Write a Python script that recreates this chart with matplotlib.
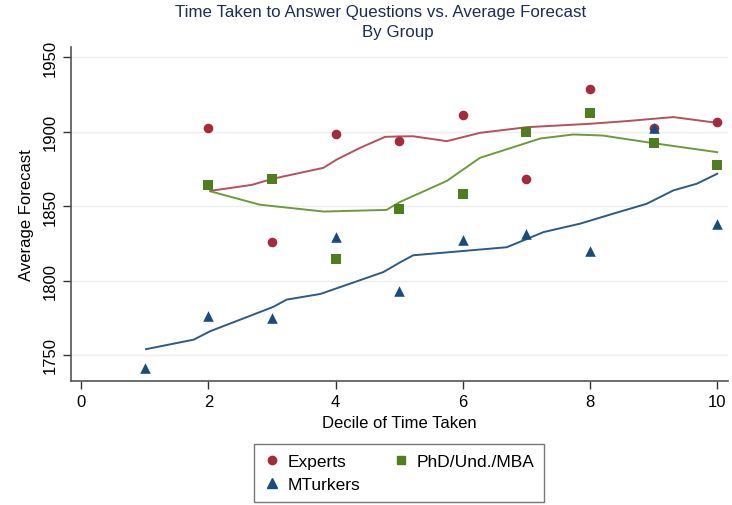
import numpy as np
import matplotlib.pyplot as plt
from matplotlib.lines import Line2D

plt.rcParams['font.family'] = ['Liberation Sans', 'DejaVu Sans']

deciles = [1, 2, 3, 4, 5, 6, 7, 8, 9, 10]

# decile means
experts_x = [2, 3, 4, 5, 6, 7, 8, 9, 10]
experts_y = [1902.3, 1825.8, 1898.7, 1893.7, 1911.4, 1868.0, 1928.8, 1902.5, 1906.5]
phd_x = [2, 3, 4, 5, 6, 7, 8, 9, 10]
phd_y = [1864.3, 1868.0, 1814.3, 1848.4, 1858.5, 1900.2, 1912.8, 1892.4, 1877.8]
mturk_x = deciles
mturk_y = [1741.5, 1776.5, 1774.7, 1829.6, 1793.0, 1827.5, 1831.0, 1820.0, 1902.7, 1838.2]

# smoothed fits
experts_fit_x = [2.03, 2.68, 3.02, 3.81, 4.02, 4.4, 4.78, 5.0, 5.22, 5.75, 6.27, 7.01, 8.0, 8.58, 9.31, 10.0]
experts_fit_y = [1860.3, 1864.3, 1868.5, 1875.8, 1881.4, 1889.5, 1896.6, 1896.9, 1897.0, 1893.7, 1899.3, 1903.1, 1905.4, 1907.2, 1909.9, 1906.0]
phd_fit_x = [2.03, 2.81, 3.81, 4.8, 5.02, 5.75, 6.27, 7.22, 7.74, 8.2, 8.99, 10.0]
phd_fit_y = [1860.0, 1851.0, 1846.4, 1847.5, 1853.0, 1867.0, 1882.5, 1895.5, 1898.2, 1897.5, 1892.4, 1886.3]
mturk_fit_x = [1.02, 1.77, 2.03, 3.02, 3.23, 3.76, 4.28, 4.75, 5.02, 5.22, 6.69, 7.01, 7.27, 7.84, 8.36, 8.89, 9.31, 9.68, 10.0]
mturk_fit_y = [1753.9, 1760.3, 1766.0, 1782.3, 1787.2, 1791.0, 1798.7, 1805.7, 1812.4, 1817.0, 1822.4, 1828.0, 1832.6, 1838.2, 1844.9, 1851.6, 1860.6, 1865.1, 1871.8]

red = '#a52a3c'
green = '#4f7d1f'
blue = '#1b4b7a'

fig = plt.figure(figsize=(7.32, 5.06), dpi=100)
ax = fig.add_axes([71 / 732, 1 - 382 / 506, 657 / 732, 334 / 506])

ax.plot(experts_fit_x, experts_fit_y, color='#b5505c', lw=1.4)
ax.plot(phd_fit_x, phd_fit_y, color='#6e9a3e', lw=1.4)
ax.plot(mturk_fit_x, mturk_fit_y, color='#2d5a86', lw=1.4)

ax.scatter(experts_x, experts_y, marker='o', s=48, color=red, zorder=3, linewidths=0)
ax.scatter(phd_x, phd_y, marker='s', s=50, color=green, zorder=3, linewidths=0)
ax.scatter(mturk_x, mturk_y, marker='^', s=58, color=blue, zorder=3, linewidths=0)

ax.set_xlim(-0.16, 10.17)
ax.set_ylim(1732.5, 1957)
ax.set_xticks([0, 2, 4, 6, 8, 10])
ax.set_yticks([1750, 1800, 1850, 1900, 1950])
ax.set_yticklabels(['1750', '1800', '1850', '1900', '1950'], rotation=90, va='center')
ax.tick_params(labelsize=12, colors='#333333', length=6, width=1, labelcolor='black')
ax.grid(axis='y', color='#eeeeee', lw=1)
ax.set_axisbelow(True)
for s in ['top', 'right']:
    ax.spines[s].set_visible(False)
for s in ['left', 'bottom']:
    ax.spines[s].set_color('#555555')
    ax.spines[s].set_linewidth(1.2)

ax.set_xlabel('Decile of Time Taken', fontsize=12, labelpad=4)
ax.set_ylabel('Average Forecast', fontsize=12, labelpad=6)
fig.text(381 / 732, 1 - 13 / 506, 'Time Taken to Answer Questions vs. Average Forecast',
         ha='center', va='center', fontsize=12.2, color='#1e2c55')
fig.text(398 / 732, 1 - 32 / 506, 'By Group',
         ha='center', va='center', fontsize=12.2, color='#1e2c55')

handles = [
    Line2D([], [], marker='o', ls='', color=red, markersize=6),
    Line2D([], [], marker='^', ls='', color=blue, markersize=6.5),
    Line2D([], [], marker='s', ls='', color=green, markersize=6),
]
leg = fig.legend(handles, ['Experts', 'MTurkers', 'PhD/Und./MBA'], ncol=2,
                 loc='center', bbox_to_anchor=(399 / 732, 1 - 474 / 506),
                 fontsize=12.5, frameon=True, fancybox=False, edgecolor='#555555',
                 handletextpad=0.4, columnspacing=1.8, labelspacing=0.5,
                 borderpad=0.55, handlelength=1.0)
leg.get_frame().set_linewidth(1.0)

fig.savefig('out.png', dpi=100)
